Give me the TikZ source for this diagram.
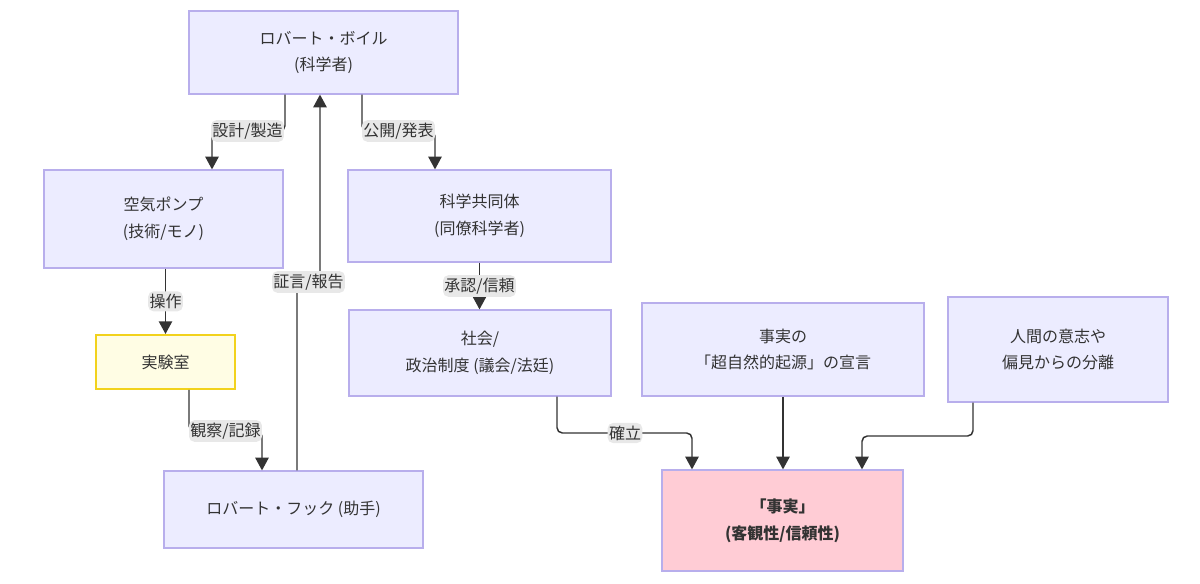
\documentclass[tikz,border=0pt]{standalone}
\usepackage{fontspec}
\newfontfamily\jp{Noto Sans CJK JP}
\usetikzlibrary{arrows.meta,calc}
\definecolor{boxfill}{HTML}{ECECFF}
\definecolor{boxline}{HTML}{B8AEEC}
\definecolor{labfill}{HTML}{FFFDE4}
\definecolor{labline}{HTML}{F2D21C}
\definecolor{factfill}{HTML}{FFCCD5}
\definecolor{ink}{HTML}{333333}
\definecolor{tagfill}{HTML}{E8E8E8}
\begin{document}
\begin{tikzpicture}[x=0.75pt,y=-0.75pt,
  box/.style={draw=boxline,fill=boxfill,line width=0.9pt,text=ink,align=center,inner sep=0pt,font=\jp\fontsize{12}{20}\selectfont},
  edge/.style={draw=ink,line width=1.1pt,rounded corners=4pt,-{Triangle[width=10pt,length=9.5pt]}},
  tag/.style={fill=tagfill,text=ink,inner xsep=1pt,inner ysep=2pt,font=\jp\fontsize{12}{14}\selectfont}]
\useasboundingbox (0,0) rectangle (1200,584);
\node[box,minimum width=269*.75pt,minimum height=83*.75pt] (boyle) at (323.5,52.5) {ロバート・ボイル\\(科学者)};
\node[box,minimum width=239*.75pt,minimum height=98*.75pt] (pump) at (163.5,219) {空気ポンプ\\(技術/モノ)};
\node[box,draw=labline,fill=labfill,line width=1.5pt,minimum width=139*.75pt,minimum height=54*.75pt] (lab) at (165.5,362) {実験室};
\node[box,minimum width=259*.75pt,minimum height=77*.75pt] (hooke) at (293.5,509.5) {ロバート・フック (助手)};
\node[box,minimum width=263*.75pt,minimum height=92*.75pt] (comm) at (479.5,216) {科学共同体\\(同僚科学者)};
\node[box,minimum width=262*.75pt,minimum height=86*.75pt] (society) at (480,353) {社会/\\政治制度 (議会/法廷)};
\node[box,minimum width=282*.75pt,minimum height=93*.75pt] (decl) at (783,349.5) {事実の\\「超自然的起源」の宣言};
\node[box,minimum width=220*.75pt,minimum height=105*.75pt] (sep) at (1058,349.5) {人間の意志や\\偏見からの分離};
\node[box,fill=factfill,minimum width=241*.75pt,minimum height=101*.75pt,font=\jp\bfseries\fontsize{12}{20}\selectfont] (fact) at (782.5,520.5) {「事実」\\(客観性/信頼性)};
\coordinate (t1) at (247.5,131);
\coordinate (t2) at (398.5,131);
\coordinate (t4) at (225.5,431);
\coordinate (t5) at (308.5,282);
\coordinate (t7) at (625,433);
\coordinate (j9) at (917,436);
\draw[edge] ($(boyle.south)+(-38.5,0)$) |- (t1) node[tag] (l1) {設計/製造} -| ($(pump.north)+(48.5,0)$);
\draw[edge] ($(boyle.south)+(38.5,0)$) |- (t2) node[tag] (l2) {公開/発表} -| ($(comm.north)+(-44.5,0)$);
\draw[edge] (pump.south -| lab.north) -- node[tag] (l3) {操作} (lab.north);
\draw[edge] ($(lab.south)+(23.5,0)$) |- (t4) node[tag] (l4) {観察/記録} -| ($(hooke.north)+(-31.5,0)$);
\draw[edge] ($(hooke.north)+(3.5,0)$) |- (t5) node[tag] (l5) {証言/報告} -| ($(boyle.south)+(-3.5,0)$);
\draw[edge] (comm.south) -- node[tag] (l6) {承認/信頼} (comm.south |- society.north);
\draw[edge] ($(society.south)+(77,0)$) |- (t7) node[tag] (l7) {確立} -| ($(fact.north)+(-90.5,0)$);
\draw[edge] (decl.south) -- (decl.south |- fact.north);
\draw[edge] ($(sep.south)+(-85,0)$) |- (j9) -| ($(fact.north)+(79.5,0)$);
\end{tikzpicture}
\end{document}
